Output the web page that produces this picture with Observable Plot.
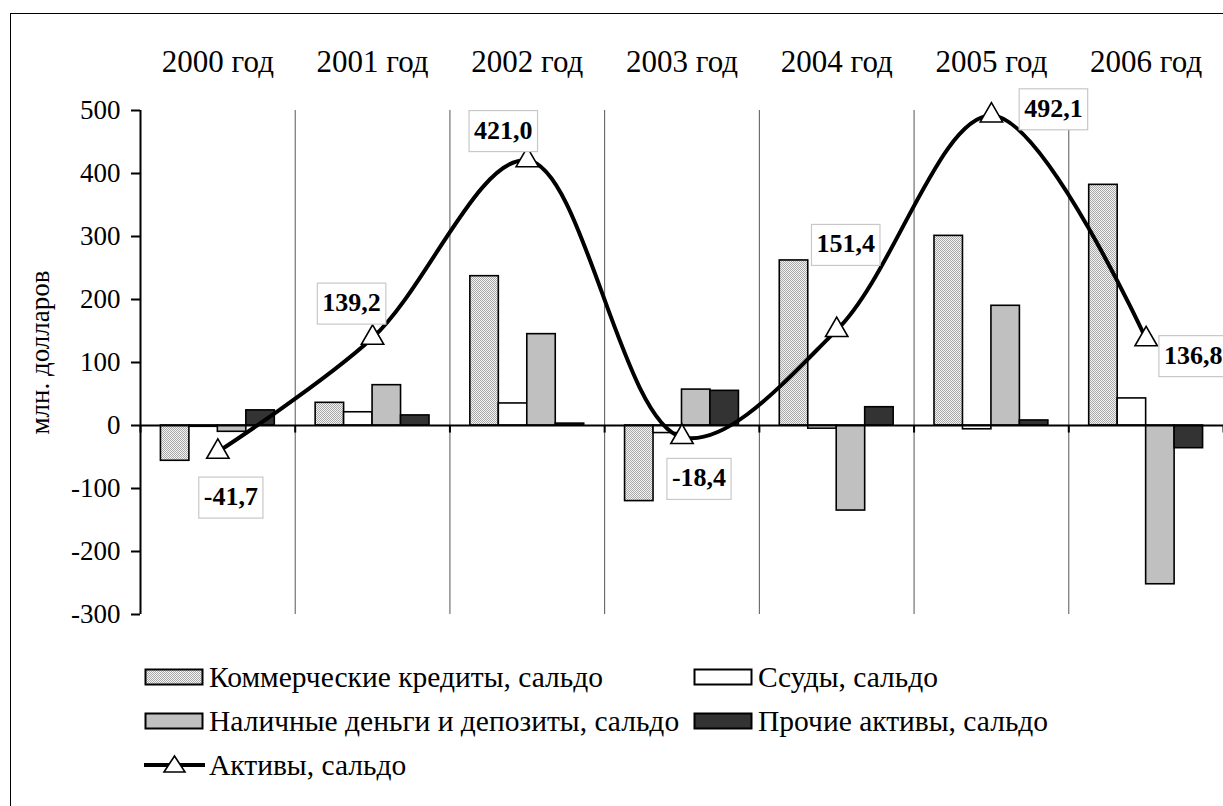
<!DOCTYPE html>
<html><head><meta charset="utf-8">
<script src="https://cdn.jsdelivr.net/npm/d3@7"></script>
<script src="https://cdn.jsdelivr.net/npm/@observablehq/plot@0.6"></script>
<style>
body{margin:0;background:#fff;font-family:"Liberation Serif","Times New Roman",serif;}
#wrap{position:relative;width:1223px;height:806px;overflow:hidden;background:#fff;}
#frame{position:absolute;left:10px;top:13px;width:1240px;height:830px;border:1.5px solid #000;}
#chart{position:absolute;left:0;top:0;}
#chart svg, #chart svg text{font-family:"Liberation Serif","Times New Roman",serif !important;}
.item{position:absolute;display:flex;align-items:center;font-size:29.5px;color:#000;white-space:nowrap;height:30px;font-family:"Liberation Serif","Times New Roman",serif;}
.item svg{margin-right:3px;}
</style></head><body>
<div id="wrap"><div id="frame"></div><div id="chart"></div><div id="legend"></div></div>
<script>
const years = ["2000 год", "2001 год", "2002 год", "2003 год", "2004 год", "2005 год", "2006 год"];
const seriesNames = ["Коммерческие кредиты, сальдо", "Ссуды, сальдо", "Наличные деньги и депозиты, сальдо", "Прочие активы, сальдо"];
const lineName = "Активы, сальдо";
const commercial = [-56, 36, 237, -120, 262, 301, 382];
const loans = [-2, 21, 35, -12, -5, -6, 43];
const cash = [-10, 64, 145, 57, -135, 190, -252];
const other = [24, 16, 3, 55, 29, 8, -36];
const assets = [-41.7, 139.2, 421.0, -18.4, 151.4, 492.1, 136.8];
const yTicks = [-300, -200, -100, 0, 100, 200, 300, 400, 500];
// label offsets (pixels) for the value boxes
const labelOffsets = [[13, 45], [-21, -35], [-24, -30], [17, 41], [9, -86], [62, -7], [47, 16]];

const fills = ["url(#dots)", "#ffffff", "#c0c0c0", "#333333"];
const seriesValues = [commercial, loans, cash, other];
const idx = years.map((_, i) => i);
const barW = 0.184, groupStart = -0.368;
const lineData = assets.map((v, i) => ({i, v}));

const font = '"Liberation Serif","Times New Roman",serif';

const barMarks = seriesValues.map((vals, k) =>
  Plot.rect(vals.map((v, i) => ({i, k, v})), {
    x1: d => d.i + groupStart + d.k * barW,
    x2: d => d.i + groupStart + (d.k + 1) * barW,
    y1: 0, y2: d => d.v,
    fill: fills[k], stroke: "#000", strokeWidth: 1.6
  })
);

const labelMarks = lineData.map((d, j) =>
  Plot.text([d], {
    x: "i", y: "v", text: d => d.v.toFixed(1).replace(".", ","),
    dx: labelOffsets[j][0], dy: labelOffsets[j][1],
    fontSize: 26, fontWeight: "bold", fill: "#000", className: "vlabel", fontFamily: font
  })
);

const plot = Plot.plot({
  width: 1223, height: 640,
  marginTop: 110, marginBottom: 26, marginLeft: 140, marginRight: 0,
  style: {fontFamily: font, background: "transparent", overflow: "visible"},
  x: {domain: [-0.5, 6.5]},
  y: {domain: [-300, 500]},
  marks: [
    Plot.ruleX(idx.slice(0, -1).map(i => i + 0.5).concat([6.5]), {y1: -300, y2: 500, stroke: "#555", strokeWidth: 1}),
    Plot.axisX({anchor: "top", ticks: idx, tickFormat: i => years[i], tickSize: 0, tickPadding: 39, fontSize: 31, label: null}),
    Plot.axisY({ticks: yTicks, tickFormat: d => String(d), tickSize: 9, tickPadding: 11, fontSize: 27, label: null, strokeWidth: 2}),
    Plot.text(["млн. долларов"], {frameAnchor: "left", rotate: -90, textAnchor: "middle", dx: -100, dy: -10, fontSize: 27, fill: "#000", fontFamily: font}),
    ...barMarks,
    Plot.ruleX([-0.5], {y1: -300, y2: 500, stroke: "#000", strokeWidth: 2}),
    Plot.ruleY([0], {stroke: "#000", strokeWidth: 2}),
    Plot.ruleX(idx.map(i => i - 0.5).concat([6.5]), {y1: 0, y2: -12, stroke: "#000", strokeWidth: 2}),
    Plot.line(lineData, {x: "i", y: "v", curve: "catmull-rom", stroke: "#000", strokeWidth: 4}),
    Plot.dot(lineData, {x: "i", y: "v", symbol: "triangle", r: 8.3, fill: "#fff", stroke: "#000", strokeWidth: 1.6}),
    ...labelMarks
  ]
});

// pattern definition for the checkered fill
const ns = "http://www.w3.org/2000/svg";
const patternHTML = id => '<pattern id="' + id + '" width="2" height="2" patternUnits="userSpaceOnUse">' +
    '<rect width="2" height="2" fill="#f4f4f4" shape-rendering="crispEdges"/>' +
    '<rect width="1" height="1" fill="#a8a8a8" shape-rendering="crispEdges"/>' +
    '<rect x="1" y="1" width="1" height="1" fill="#a8a8a8" shape-rendering="crispEdges"/></pattern>';
const defs = document.createElementNS(ns, "defs");
defs.innerHTML = patternHTML("dots");
plot.insertBefore(defs, plot.firstChild);
document.getElementById("chart").appendChild(plot);

// boxes behind value labels
plot.querySelectorAll(".vlabel text").forEach(t => {
  const b = t.getBBox();
  const r = document.createElementNS(ns, "rect");
  const padX = 5, padY = 7;
  r.setAttribute("x", b.x - padX); r.setAttribute("y", b.y - padY + 2);
  r.setAttribute("width", b.width + 2 * padX); r.setAttribute("height", b.height + 2 * padY - 2);
  r.setAttribute("fill", "#fff"); r.setAttribute("stroke", "#c8c8c8"); r.setAttribute("stroke-width", "1.2");
  const tr = t.getAttribute("transform");
  if (tr) r.setAttribute("transform", tr);
  t.parentNode.insertBefore(r, t);
});

// legend
const legend = document.getElementById("legend");
const legendItems = [
  {name: seriesNames[0], fill: "url(#dots2)", x: 144, y: 677},
  {name: seriesNames[1], fill: "#ffffff", x: 693, y: 677},
  {name: seriesNames[2], fill: "#c0c0c0", x: 144, y: 721},
  {name: seriesNames[3], fill: "#333333", x: 693, y: 721},
  {name: lineName, line: true, x: 144, y: 765}
];
legendItems.forEach(it => {
  const div = document.createElement("div");
  div.className = "item";
  div.style.left = it.x + "px";
  div.style.top = (it.y - 15) + "px";
  const sw = document.createElementNS(ns, "svg");
  sw.setAttribute("width", 62); sw.setAttribute("height", 30);
  if (it.line) {
    sw.innerHTML = '<line x1="0" y1="15" x2="61" y2="15" stroke="#000" stroke-width="4"/>' +
      '<path d="M30.5,6 L41,22 L20,22 Z" fill="#fff" stroke="#000" stroke-width="1.6"/>';
  } else {
    sw.innerHTML = '<defs>' + patternHTML("dots2") + '</defs>' +
      '<rect x="1.5" y="7.5" width="57" height="15" fill="' + it.fill + '" stroke="#000" stroke-width="2"/>';
  }
  div.appendChild(sw);
  const span = document.createElement("span");
  span.textContent = it.name;
  div.appendChild(span);
  legend.appendChild(div);
});
</script>
</body></html>
